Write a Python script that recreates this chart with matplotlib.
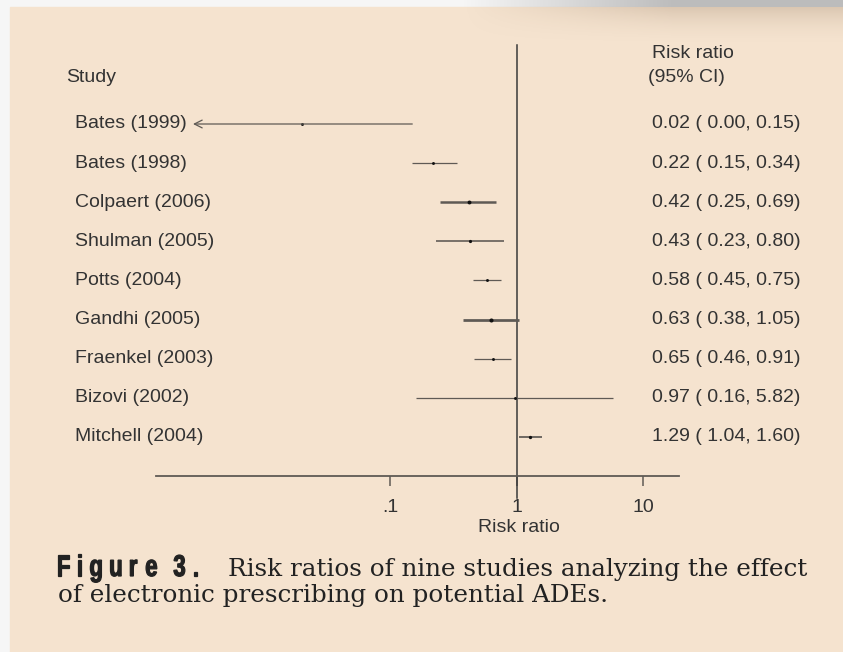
import numpy as np
import matplotlib
matplotlib.use("Agg")
import matplotlib.pyplot as plt
from matplotlib.patches import Rectangle, PathPatch
from matplotlib.textpath import TextPath
from matplotlib.font_manager import FontProperties
from matplotlib.transforms import blended_transform_factory, Affine2D

# data
studies = ["Bates (1999)", "Bates (1998)", "Colpaert (2006)", "Shulman (2005)",
           "Potts (2004)", "Gandhi (2005)", "Fraenkel (2003)", "Bizovi (2002)",
           "Mitchell (2004)"]
rr = [0.02, 0.22, 0.42, 0.43, 0.58, 0.63, 0.65, 0.97, 1.29]
lo = [0.00, 0.15, 0.25, 0.23, 0.45, 0.38, 0.46, 0.16, 1.04]
hi = [0.15, 0.34, 0.69, 0.80, 0.75, 1.05, 0.91, 5.82, 1.60]
weights = [1.0, 1.0, 2.0, 1.3, 1.0, 2.2, 1.0, 1.0, 1.4]
ticks = [0.1, 1, 10]
tick_labels = [".1", "1", "10"]

W, H = 843, 652
BG = "#f5e3cf"
TXT = "#333333"
LINE = "#5f5a55"

fig = plt.figure(figsize=(W / 100, H / 100), dpi=100)
fig.patch.set_facecolor("#f6f6f6")

# background panel + top shadow
bg = fig.add_axes([0, 0, 1, 1])
bg.set_xlim(0, W)
bg.set_ylim(H, 0)
bg.axis("off")
bg.add_patch(Rectangle((10, 7), W - 10, H - 7, color=BG, zorder=0))
gx = np.linspace(0, 1, 300)
strip = np.clip((gx - 0.55) / 0.25, 0, 1)
top = np.ones((1, 300, 4))
top[..., :3] = 0.74
top[..., 3] = strip
bg.imshow(top, extent=(0, W, 7, 0), aspect="auto", zorder=1)
gy = np.linspace(0, 1, 40)
sh = np.zeros((40, 300, 4))
sh[..., 0] = 0.55
sh[..., 1] = 0.45
sh[..., 2] = 0.35
sh[..., 3] = (strip[None, :] * 0.25) * (1 - gy[:, None]) ** 2
bg.imshow(sh, extent=(0, W, 47, 7), aspect="auto", zorder=1)

# forest plot axes
x1_px, dec_px = 516.5, 126.5
left_px, right_px = 156, 679
top_px, bot_px = 45, 476
row0_px, row_step = 124, 39.1


def px2val(p):
    return 10 ** ((p - x1_px) / dec_px)


def px2row(p):
    return (p - row0_px) / row_step


ax = fig.add_axes([left_px / W, 1 - bot_px / H, (right_px - left_px) / W, (bot_px - top_px) / H])
ax.set_xscale("log")
ax.set_xlim(px2val(left_px), px2val(right_px))
ax.set_ylim(px2row(bot_px), px2row(top_px))
ax.patch.set_alpha(0)
for s in ["top", "right", "left"]:
    ax.spines[s].set_visible(False)
ax.spines["bottom"].set_color(LINE)
ax.spines["bottom"].set_linewidth(1.3)
ax.set_yticks([])
ax.set_xticks(ticks)
ax.set_xticklabels([])
ax.xaxis.set_minor_locator(matplotlib.ticker.NullLocator())
ax.tick_params(axis="x", length=7, width=1.1, color=LINE)
ax.plot([1, 1], [px2row(top_px), px2row(498)], color="#3a3a3a", lw=1.1, clip_on=False)

font = dict(family="Liberation Sans", fontsize=14, color=TXT)
trx = blended_transform_factory(ax.transData, fig.transFigure)
for v, lab in zip(ticks, tick_labels):
    ax.text(v, 1 - 508 / H, lab, transform=trx, ha="center", va="center", **font)
ax.text(1.04, 1 - 527 / H, "Risk ratio", transform=trx, ha="center", va="center", **font)

xmin = px2val(193)
for i in range(len(studies)):
    y = i
    lw = 0.9 * weights[i]
    if lo[i] < xmin:
        ax.annotate("", xy=(xmin, y), xytext=(hi[i], y),
                    arrowprops=dict(arrowstyle="->", color=LINE, lw=lw,
                                    shrinkA=0, shrinkB=0, mutation_scale=14))
    else:
        ax.plot([lo[i], hi[i]], [y, y], color=LINE, lw=lw, solid_capstyle="butt")
    ax.plot(rr[i], y, "o", color="#111111", ms=1.4 + 0.7 * weights[i], mec="none")

# text columns
tr = blended_transform_factory(fig.transFigure, ax.transData)
for i in range(len(studies)):
    fig.text(75 / W, i, studies[i], transform=tr, va="center", ha="left", **font)
    fig.text(652 / W, i, "%.2f ( %.2f, %.2f)" % (rr[i], lo[i], hi[i]),
             transform=tr, va="center", ha="left", **font)
fig.text(66 / W, 1 - 77 / H, "Study", va="center", ha="left", **font)
fig.text(652 / W, 1 - 54 / H, "Risk ratio", va="center", ha="left", **font)
fig.text(648 / W, 1 - 77 / H, "(95% CI)", va="center", ha="left", **font)

# caption: condensed, letter-spaced bold label
fp = FontProperties(family="Liberation Sans", weight="bold")
cap_h = 21.5
x = 58
for ch in "Figure 3.":
    if ch == " ":
        x += 8
        continue
    tp = TextPath((0, 0), ch, size=100, prop=fp)
    ext = tp.get_extents()
    s = cap_h / 71.6
    sx = s * 0.74
    trf = Affine2D().translate(-ext.x0, 0).scale(sx, -s).translate(x, 576) + bg.transData
    bg.add_patch(PathPatch(tp, transform=trf, color="#222222", lw=0.9))
    x += ext.width * sx + 9

fig.canvas.draw()
rend = fig.canvas.get_renderer()
cap = dict(family="DejaVu Serif", color="#222222", va="baseline", ha="left")
line1 = "Risk ratios of nine studies analyzing the effect"
t1 = fig.text(228 / W, 1 - 576 / H, line1, fontsize=16, **cap)
size = 16 * 580 / t1.get_window_extent(rend).width
t1.set_fontsize(size)
fig.text(58 / W, 1 - 602 / H, "of electronic prescribing on potential ADEs.", fontsize=size, **cap)

fig.savefig("out.png", dpi=100, facecolor=fig.get_facecolor())
